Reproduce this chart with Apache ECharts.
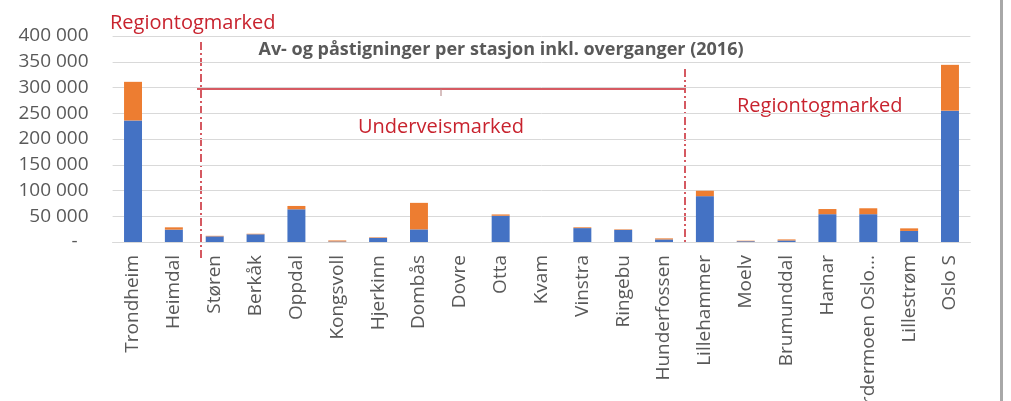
<!DOCTYPE html>
<html>
<head>
<meta charset="utf-8">
<script src="https://cdn.jsdelivr.net/npm/echarts@6/dist/echarts.min.js"></script>
<style>
  html, body { margin: 0; padding: 0; background: #fff; }
  #chart { width: 1011px; height: 401px; }
</style>
</head>
<body>
<div id="chart"></div>
<script>
// Stations along the line, north to south
const stations = ['Trondheim', 'Heimdal', 'Støren', 'Berkåk', 'Oppdal', 'Kongsvoll', 'Hjerkinn',
  'Dombås', 'Dovre', 'Otta', 'Kvam', 'Vinstra', 'Ringebu', 'Hunderfossen', 'Lillehammer',
  'Moelv', 'Brumunddal', 'Hamar', 'Gardermoen Oslo lufthavn', 'Lillestrøm', 'Oslo S'];

// Boardings and alightings per station (2016), two stacked parts
const partA = [236000, 24000, 11000, 15000, 63500, 1000, 8000, 24500, 0, 51000, 0, 27000,
  23500, 5000, 89000, 1500, 3000, 54000, 54000, 21500, 255000];
const partB = [75000, 4500, 1000, 1000, 6500, 2000, 1000, 51500, 0, 2500, 0, 1500,
  1000, 2000, 10500, 1000, 2000, 10000, 11500, 5000, 89000];

const yTicks = [0, 50000, 100000, 150000, 200000, 250000, 300000, 350000, 400000];

const RED = '#c8232e';
const GREY_TXT = '#595959';
const FONT = '"Open Sans", Lato, sans-serif';

function fmt(v) {
  if (v === 0) return '{z|-}';
  return String(v).replace(/\B(?=(\d{3})+(?!\d))/g, ' ');
}

const chart = echarts.init(document.getElementById('chart'));
chart.setOption({
  animation: false,
  backgroundColor: '#ffffff',
  grid: { left: 112.6, right: 40.6, top: 36, bottom: 159, containLabel: false, outerBoundsMode: 'none' },
  xAxis: {
    type: 'category',
    data: stations,
    axisTick: { show: false },
    axisLine: { show: true, lineStyle: { color: '#d9d9d9', width: 1 } },
    axisLabel: {
      rotate: 90,
      interval: 0,
      margin: 13,
      color: GREY_TXT,
      fontFamily: FONT,
      fontSize: 19,
      width: 178,
      overflow: 'truncate',
      ellipsis: '...'
    }
  },
  yAxis: {
    type: 'value',
    min: yTicks[0],
    max: yTicks[yTicks.length - 1],
    interval: yTicks[1] - yTicks[0],
    axisLine: { show: false },
    axisTick: { show: false },
    splitLine: { lineStyle: { color: '#d9d9d9', width: 1 } },
    axisLabel: {
      margin: 24,
      color: GREY_TXT,
      fontFamily: FONT,
      fontSize: 19,
      formatter: fmt,
      rich: { z: { color: GREY_TXT, fontFamily: FONT, fontSize: 19, padding: [0, 11, 0, 0] } }
    }
  },
  series: [
    { name: 'A', type: 'bar', stack: 'tot', data: partA, barWidth: '44%',
      itemStyle: { color: '#4472c4' } },
    { name: 'B', type: 'bar', stack: 'tot', data: partB, barWidth: '44%',
      itemStyle: { color: '#ed7d31' } }
  ],
  graphic: [
    // frame edge on the right
    { type: 'rect', shape: { x: 1000, y: 0, width: 3, height: 401 }, style: { fill: '#a8a8a8' } },
    // heading
    { type: 'text', x: 501, y: 50, style: {
        text: 'Av- og påstigninger per stasjon inkl. overganger (2016)',
        fill: GREY_TXT, font: 'bold 18px ' + FONT, align: 'center', verticalAlign: 'middle' } },
    // region labels
    { type: 'text', x: 110, y: 23, style: { text: 'Regiontogmarked', fill: RED,
        font: '20px ' + FONT, align: 'left', verticalAlign: 'middle' } },
    { type: 'text', x: 737, y: 106, style: { text: 'Regiontogmarked', fill: RED,
        font: '20px ' + FONT, align: 'left', verticalAlign: 'middle' } },
    { type: 'text', x: 441, y: 127, style: { text: 'Underveismarked', fill: RED,
        font: '20px ' + FONT, align: 'center', verticalAlign: 'middle' } },
    // section dividers
    { type: 'line', shape: { x1: 201, y1: 42, x2: 201, y2: 258 },
      style: { stroke: RED, lineWidth: 1.5, lineDash: [8, 3, 2, 3] } },
    { type: 'line', shape: { x1: 685, y1: 69, x2: 685, y2: 244 },
      style: { stroke: RED, lineWidth: 1.5, lineDash: [8, 3, 2, 3] } },
    // bracket over the middle section
    { type: 'line', shape: { x1: 197, y1: 89, x2: 684, y2: 89 },
      style: { stroke: RED, lineWidth: 1.3 } },
    { type: 'line', shape: { x1: 441, y1: 89, x2: 441, y2: 96 },
      style: { stroke: '#b08080', lineWidth: 1 } }
  ]
});
</script>
</body>
</html>
